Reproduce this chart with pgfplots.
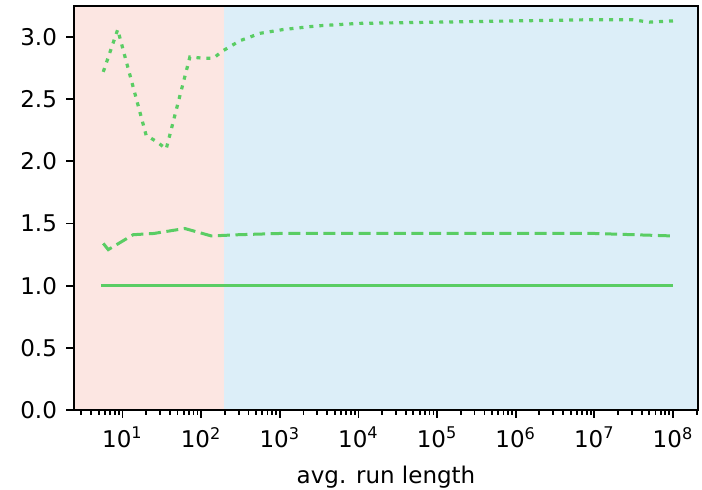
\documentclass[border=0pt]{standalone}
\usepackage{pgfplots}
\pgfplotsset{compat=1.18}
\usepackage{fontspec}
\setmainfont{DejaVu Sans}
\definecolor{lgreen}{RGB}{90,205,100}
\definecolor{bgred}{RGB}{252,230,226}
\definecolor{bgblue}{RGB}{220,238,248}
\begin{document}
\begin{tikzpicture}
\useasboundingbox (-37pt,-40pt) rectangle (314pt,205pt);
\begin{axis}[
  at={(0pt,0pt)}, anchor=south west,
  scale only axis,
  width=312pt, height=202pt,
  xmode=log,
  xmin=2.42, xmax=2.08e8,
  ymin=0, ymax=3.25,
  axis line style={line width=1.2pt},
  tick align=outside,
  xtick pos=bottom, ytick pos=left,
  major tick length=4pt, minor tick length=2.3pt,
  every tick/.style={black, line width=0.9pt},
  xtick={10,100,1000,10000,100000,1000000,10000000,100000000},
  xticklabels={10\textsuperscript{1},10\textsuperscript{2},10\textsuperscript{3},10\textsuperscript{4},10\textsuperscript{5},10\textsuperscript{6},10\textsuperscript{7},10\textsuperscript{8}},
  minor xtick={3,4,5,6,7,8,9,20,30,40,50,60,70,80,90,200,300,400,500,600,700,800,900,2000,3000,4000,5000,6000,7000,8000,9000,20000,30000,40000,50000,60000,70000,80000,90000,200000,300000,400000,500000,600000,700000,800000,900000,2000000,3000000,4000000,5000000,6000000,7000000,8000000,9000000,20000000,30000000,40000000,50000000,60000000,70000000,80000000,90000000,200000000},
  ytick={0,0.5,1,1.5,2,2.5,3},
  yticklabel style={/pgf/number format/fixed, /pgf/number format/fixed zerofill, /pgf/number format/precision=1, /pgf/number format/assume math mode=true},
  tick label style={font=\fontsize{11.5}{13.8}\selectfont},
  xticklabel style={yshift=-1pt},
  yticklabel style={xshift=-1pt},
  xlabel={avg. run length},
  xlabel style={font=\fontsize{11.5}{13.8}\selectfont, yshift=-2pt},
  axis on top,
]
\addplot[fill=bgred, draw=none] coordinates {(2.42,0) (195,0) (195,3.25) (2.42,3.25)} -- cycle;
\addplot[fill=bgblue, draw=none] coordinates {(195,0) (2.08e8,0) (2.08e8,3.25) (195,3.25)} -- cycle;
% solid
\addplot[lgreen, line width=1.7pt] coordinates {(5.3,1.0) (1e8,1.0)};
% dashed
\addplot[lgreen, line width=1.5pt, dash pattern=on 6pt off 2.8pt] coordinates {
(5.7,1.34) (6.6,1.29) (13.7,1.41) (25,1.42) (62,1.46) (135,1.40) (300,1.41) (1000,1.42) (10000,1.42) (1e5,1.42) (1e6,1.42) (1e7,1.42) (1e8,1.40)};
% dotted
\addplot[lgreen, line width=1.6pt, dash pattern=on 2pt off 3pt] coordinates {
(5.7,2.72) (8.7,3.06) (20,2.21) (27,2.16) (36,2.10) (72,2.84) (106,2.83) (143,2.83) (190,2.89) (310,2.97) (560,3.03) (1090,3.06) (3000,3.09) (1e4,3.11) (1e5,3.12) (1e6,3.13) (1e7,3.14) (3e7,3.14) (5e7,3.12) (1e8,3.13)};
\end{axis}
\end{tikzpicture}
\end{document}
